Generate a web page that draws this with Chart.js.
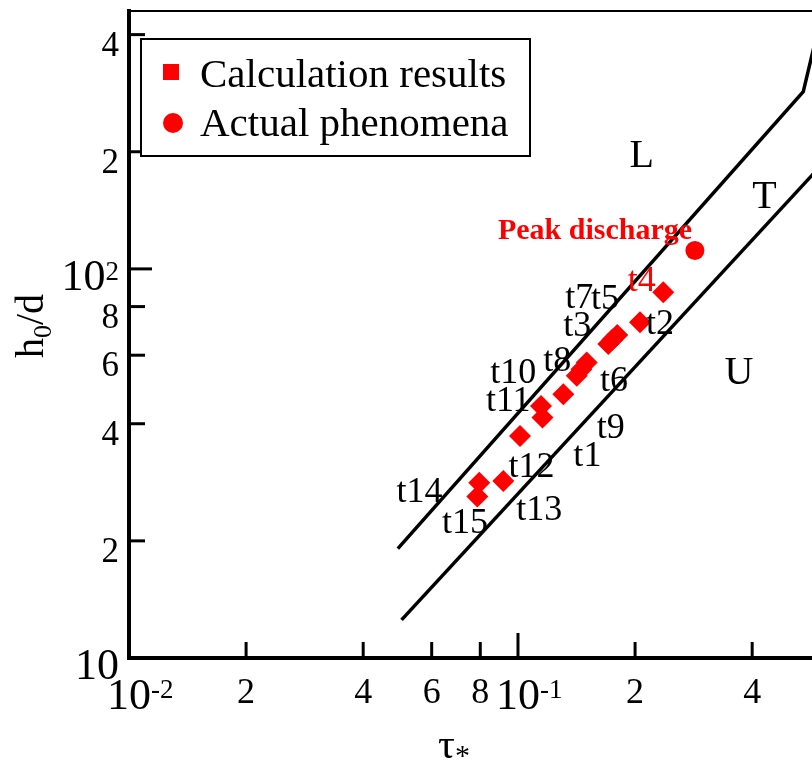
<!DOCTYPE html>
<html>
<head>
<meta charset="utf-8">
<script src="https://cdn.jsdelivr.net/npm/chart.js@4.4.1/dist/chart.umd.min.js"></script>
<style>
  html, body { margin: 0; padding: 0; background: #fff; }
  canvas { display: block; }
</style>
</head>
<body>
<canvas id="grafico" width="812" height="761"></canvas>
<script>
// valores (tau*, h0/d)
let nombresT = ["t1", "t2", "t3", "t4", "t5", "t6", "t7", "t8", "t9", "t10", "t11", "t12", "t13", "t14", "t15"]
let tauCalc = [0.1156, 0.2059, 0.1707, 0.2363, 0.1800, 0.1416, 0.1750, 0.1502, 0.1308, 0.1456, 0.1146, 0.1012, 0.0917, 0.0795, 0.0786]
let hdCalc = [41.5, 72.9, 64.1, 87.1, 67.6, 53.1, 65.8, 57.5, 47.6, 55.2, 44.4, 37.2, 28.5, 28.2, 26.0]

let tauPeak = [0.285]
let hdPeak = [111.5]

// limites entre regiones L / T / U
let tauLimiteLT = [0.0491, 0.5413, 0.608]
let hdLimiteLT = [19.1, 285.3, 465]
let tauLimiteTU = [0.0502, 0.60]
let hdLimiteTU = [12.53, 184]

// ticks de los ejes
let ticksX = [0.01, 0.02, 0.04, 0.06, 0.08, 0.1, 0.2, 0.4]
let etiquetasX = [["10", "-2"], ["2"], ["4"], ["6"], ["8"], ["10", "-1"], ["2"], ["4"]]
let ticksY = [10, 20, 40, 60, 80, 100, 200, 400]
let etiquetasY = [["10"], ["2"], ["4"], ["6"], ["8"], ["10", "2"], ["2"], ["4"]]

// donde van los textos t1..t15 (en unidades de los ejes)
let tauEtiq = [0.1508, 0.2317, 0.1420, 0.2080, 0.1674, 0.1765, 0.1437, 0.1262, 0.1731, 0.0973, 0.0944, 0.1084, 0.1134, 0.0558, 0.0731]
let hdEtiq = [33.4, 72.9, 72.2, 94.2, 84.6, 52.1, 85.3, 58.6, 39.5, 54.7, 46.2, 31.4, 24.3, 27.1, 22.5]

let regiones = ["L", "T", "U"]
let tauRegion = [0.208, 0.430, 0.370]
let hdRegion = [197.9, 154.5, 54.7]

let textoPeak = "Peak discharge"
let tauTextoPeak = [0.1578]
let hdTextoPeak = [126.8]

const serif = '"Liberation Serif", "Times New Roman", serif'
const rojo = '#ff0000'

let esDecada = v => Math.abs(Math.log10(v) - Math.round(Math.log10(v))) < 1e-9

let aPuntos = (xs, ys) => xs.map((x, i) => ({x: x, y: ys[i]}))

// escribe varias partes seguidas (para sub/superindices)
let textoCompuesto = (ctx, partes, x, y) => {
  let ancho = 0
  partes.forEach(p => { ctx.font = p[1] + 'px ' + serif; ancho += ctx.measureText(p[0]).width })
  let cx = x - ancho / 2
  ctx.textAlign = 'left'
  partes.forEach(p => {
    ctx.font = p[1] + 'px ' + serif
    ctx.fillText(p[0], cx, y + p[2])
    cx += ctx.measureText(p[0]).width
  })
}

let extras = {
  id: 'extras',
  beforeDatasetsDraw(chart) {
    const ctx = chart.ctx
    const area = chart.chartArea
    const ex = chart.scales.x, ey = chart.scales.y
    ctx.save()
    ctx.strokeStyle = '#000'
    // borde de arriba
    ctx.lineWidth = 2
    ctx.beginPath()
    ctx.moveTo(area.left, area.top)
    ctx.lineTo(area.right, area.top)
    ctx.stroke()
    // ticks hacia adentro
    ctx.lineWidth = 3
    ticksX.forEach((v, i) => {
      if (i === 0) return
      let px = ex.getPixelForValue(v)
      let largo = esDecada(v) ? 25 : 16
      ctx.beginPath()
      ctx.moveTo(px, area.bottom)
      ctx.lineTo(px, area.bottom - largo)
      ctx.stroke()
    })
    ticksY.forEach((v, i) => {
      if (i === 0) return
      let py = ey.getPixelForValue(v)
      let largo = esDecada(v) ? 23 : 16
      ctx.beginPath()
      ctx.moveTo(area.left, py)
      ctx.lineTo(area.left + largo, py)
      ctx.stroke()
    })
    ctx.restore()
  },
  afterDatasetsDraw(chart) {
    const ctx = chart.ctx
    const area = chart.chartArea
    const ex = chart.scales.x, ey = chart.scales.y
    ctx.save()
    ctx.textAlign = 'center'
    ctx.textBaseline = 'alphabetic'

    // regiones
    ctx.fillStyle = '#000'
    ctx.font = '40px ' + serif
    regiones.forEach((r, i) => {
      ctx.fillText(r, ex.getPixelForValue(tauRegion[i]), ey.getPixelForValue(hdRegion[i]) + 13)
    })

    // t1..t15
    ctx.font = '36px ' + serif
    nombresT.forEach((n, i) => {
      ctx.fillStyle = n === 't4' ? rojo : '#000'
      ctx.fillText(n, ex.getPixelForValue(tauEtiq[i]), ey.getPixelForValue(hdEtiq[i]) + 12)
    })

    // Peak discharge
    ctx.fillStyle = rojo
    ctx.font = 'bold 30px ' + serif
    ctx.fillText(textoPeak, ex.getPixelForValue(tauTextoPeak[0]), ey.getPixelForValue(hdTextoPeak[0]) + 10)

    // leyenda
    const lx = area.left + 12, ly = area.top + 28
    ctx.fillStyle = '#fff'
    ctx.fillRect(lx, ly, 389, 117)
    ctx.strokeStyle = '#000'
    ctx.lineWidth = 2
    ctx.strokeRect(lx, ly, 389, 117)
    const ds = chart.data.datasets
    ctx.fillStyle = ds[0].backgroundColor
    ctx.fillRect(lx + 22, ly + 25, 16, 16)
    ctx.fillStyle = ds[1].backgroundColor
    ctx.beginPath()
    ctx.arc(lx + 32, ly + 84, 10, 0, Math.PI * 2)
    ctx.fill()
    ctx.fillStyle = '#000'
    ctx.font = '41px ' + serif
    ctx.textAlign = 'left'
    ctx.fillText(ds[0].label, lx + 59, ly + 48)
    ctx.fillText(ds[1].label, lx + 59, ly + 97)
    ctx.restore()
  },
  afterDraw(chart) {
    const ctx = chart.ctx
    const area = chart.chartArea
    const ex = chart.scales.x, ey = chart.scales.y
    ctx.save()
    ctx.fillStyle = '#000'
    ctx.textBaseline = 'alphabetic'

    // etiquetas eje x
    ticksX.forEach((v, i) => {
      let px = ex.getPixelForValue(v)
      let base = etiquetasX[i][0], sup = etiquetasX[i][1]
      let tam = esDecada(v) ? 44 : 36
      let by = area.bottom + 21 + 0.676 * tam
      ctx.font = tam + 'px ' + serif
      ctx.textAlign = 'center'
      ctx.fillText(base, px, by)
      if (sup) {
        let w = ctx.measureText(base).width
        ctx.font = '27px ' + serif
        ctx.textAlign = 'left'
        ctx.fillText(sup, px + w / 2, by - 11)
      }
    })

    // etiquetas eje y
    ticksY.forEach((v, i) => {
      let py = ey.getPixelForValue(v)
      let base = etiquetasY[i][0], sup = etiquetasY[i][1]
      let tam = esDecada(v) ? 44 : 35
      let by = py + 21
      let x = area.left - 10
      ctx.textAlign = 'right'
      if (sup) {
        ctx.font = '27px ' + serif
        ctx.fillText(sup, x, by - 10)
        x -= ctx.measureText(sup).width
      }
      ctx.font = tam + 'px ' + serif
      ctx.fillText(base, x, by)
    })

    // titulos de los ejes
    textoCompuesto(ctx, [["\u03c4", 42, 0], ["*", 30, 7]], 454, 758)
    ctx.translate(43, 326)
    ctx.rotate(-Math.PI / 2)
    textoCompuesto(ctx, [["h", 40, 0], ["0", 26, 8], ["/d", 40, 0]], 0, 0)
    ctx.restore()
  }
}

let cargarGrafico = () => {
  let ctx = document.getElementById("grafico").getContext("2d")

  new Chart(ctx, {
    type: "scatter",
    data: {
      datasets: [{
          label: "Calculation results",
          data: aPuntos(tauCalc, hdCalc),
          pointStyle: "rectRot",
          pointRadius: 11,
          backgroundColor: rojo,
          borderColor: rojo,
          borderWidth: 0,
          order: 1
        },
        {
          label: "Actual phenomena",
          data: aPuntos(tauPeak, hdPeak),
          pointStyle: "circle",
          pointRadius: 9.5,
          backgroundColor: rojo,
          borderColor: rojo,
          borderWidth: 0,
          order: 1
        },
        {
          label: "L-T",
          data: aPuntos(tauLimiteLT, hdLimiteLT),
          showLine: true,
          pointRadius: 0,
          borderColor: "#000",
          borderWidth: 3.5,
          tension: 0,
          order: 2
        },
        {
          label: "T-U",
          data: aPuntos(tauLimiteTU, hdLimiteTU),
          showLine: true,
          pointRadius: 0,
          borderColor: "#000",
          borderWidth: 3.5,
          tension: 0,
          order: 2
        }
      ]
    },
    options: {
      responsive: false,
      animation: false,
      layout: {
        autoPadding: false,
        padding: {top: 11, right: 0, bottom: 0, left: 0}
      },
      plugins: {
        legend: {display: false},
        tooltip: {enabled: false}
      },
      events: [],
      scales: {
        x: {
          type: "logarithmic",
          min: 0.01,
          max: 0.57,
          afterBuildTicks: s => { s.ticks = ticksX.map(v => ({value: v})) },
          afterFit: s => { s.height = 103 },
          ticks: {display: false},
          grid: {display: false},
          border: {display: true, color: "#000", width: 4}
        },
        y: {
          type: "logarithmic",
          min: 10,
          max: 460,
          afterBuildTicks: s => { s.ticks = ticksY.map(v => ({value: v})) },
          afterFit: s => { s.width = 129 },
          ticks: {display: false},
          grid: {display: false},
          border: {display: true, color: "#000", width: 4}
        }
      }
    },
    plugins: [extras]
  })
}

window.addEventListener('DOMContentLoaded', (event) => {
  cargarGrafico()
});
</script>
</body>
</html>
